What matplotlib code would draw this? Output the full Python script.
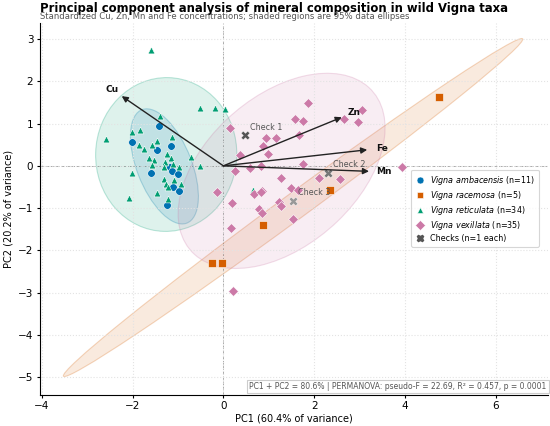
import numpy as np
import matplotlib
matplotlib.use("Agg")
import matplotlib.pyplot as plt
from matplotlib.patches import Ellipse
from matplotlib.lines import Line2D

# PCA scores
amb_x = [-1.41, -2.02, -1.16, -1.47, -1.59, -1.18, -1.13, -1.01, -1.10, -0.98, -1.24]
amb_y = [0.94, 0.57, 0.48, 0.38, -0.16, -0.02, -0.13, -0.20, -0.49, -0.59, -0.92]

rac_x = [4.75, 2.35, 0.87, -0.25, -0.04]
rac_y = [1.64, -0.58, -1.39, -2.29, -2.31]

ret_x = [-1.59, -0.52, -0.18, 0.04, -1.40, -2.02, -1.84, -2.58, -1.74, -1.85, -1.57, -1.46,
         -1.14, -1.24, -1.63, -1.53, -1.16, -0.72, -1.58, -1.29, -1.10, -0.98, -1.30, -0.51,
         -2.02, -1.08, -1.30, -1.27, -1.23, -0.94, -1.46, -2.09, -1.21, 0.66]
ret_y = [2.75, 1.37, 1.36, 1.34, 1.19, 0.80, 0.84, 0.64, 0.39, 0.49, 0.49, 0.59,
         0.69, 0.28, 0.18, 0.14, 0.18, 0.22, 0.02, 0.09, 0.04, -0.02, -0.02, 0.00,
         -0.18, -0.33, -0.30, -0.44, -0.49, -0.44, -0.64, -0.75, -0.78, -0.57]

vex_x = [1.87, 3.06, 2.66, 2.97, 1.58, 1.75, 0.14, 1.67, 0.93, 1.17, 0.88, 0.98,
         0.36, 1.75, 0.58, 0.82, 0.25, 3.93, 1.26, 2.11, 2.56, 1.48, 1.65, -0.13,
         0.68, 0.86, 0.20, 1.23, 1.26, 0.78, 0.86, 1.54, 0.17, 0.22, 0.84]
vex_y = [1.48, 1.31, 1.10, 1.03, 1.10, 1.07, 0.89, 0.74, 0.65, 0.65, 0.46, 0.29,
         0.25, 0.05, -0.05, -0.01, -0.13, -0.02, -0.29, -0.29, -0.32, -0.52, -0.58, -0.61,
         -0.66, -0.60, -0.87, -0.86, -0.96, -1.02, -1.12, -1.26, -1.47, -2.96, -0.63]

check_names = ["Check 1", "Check 2", "Check 3"]
check_x = [0.48, 2.31, 1.53]
check_y = [0.72, -0.16, -0.82]

minerals = ["Cu", "Zn", "Fe", "Mn"]
load_x = [-2.24, 2.61, 3.17, 3.21]
load_y = [1.65, 1.15, 0.38, -0.13]

species = [
    ("Vigna ambacensis", amb_x, amb_y, "#0072B2", "o", 30),
    ("Vigna racemosa", rac_x, rac_y, "#D55E00", "s", 26),
    ("Vigna reticulata", ret_x, ret_y, "#009E73", "^", 24),
    ("Vigna vexillata", vex_x, vex_y, "#CC79A7", "D", 25),
]


def data_ellipse(ax, x, y, color):
    x = np.asarray(x)
    y = np.asarray(y)
    cov = np.cov(x, y)
    vals, vecs = np.linalg.eigh(cov)
    order = vals.argsort()[::-1]
    vals, vecs = vals[order], vecs[:, order]
    angle = np.degrees(np.arctan2(vecs[1, 0], vecs[0, 0]))
    k = np.sqrt(5.991)
    w, h = 2 * k * np.sqrt(vals)
    ax.add_patch(Ellipse((x.mean(), y.mean()), w, h, angle=angle,
                         facecolor=color, alpha=0.13, zorder=1))
    ax.add_patch(Ellipse((x.mean(), y.mean()), w, h, angle=angle,
                         facecolor="none", edgecolor=color, alpha=0.25, lw=0.8, zorder=1))


fig = plt.figure(figsize=(5.5, 4.26), dpi=100)
ax = fig.add_axes([0.072, 0.073, 0.924, 0.873])

ax.grid(True, color="#e3e3e3", linestyle=":", linewidth=0.8, zorder=0)
ax.axhline(0, color="#aaaaaa", linestyle="--", linewidth=0.7, zorder=0.5)
ax.axvline(0, color="#aaaaaa", linestyle="--", linewidth=0.7, zorder=0.5)

handles = []
for name, xs, ys, col, mk, sz in species:
    data_ellipse(ax, xs, ys, col)
for name, xs, ys, col, mk, sz in species:
    ax.scatter(xs, ys, s=sz, marker=mk, color=col, edgecolor="white", linewidth=0.4, zorder=3)
    handles.append(Line2D([], [], marker=mk, color=col, linestyle="none", markersize=5,
                          markeredgecolor="white", markeredgewidth=0.4,
                          label=r"$\it{" + name.replace(" ", r"\ ") + "}$" + f" (n={len(xs)})"))

check_cols = ["#555555", "#777777", "#999999"]
for nm, cx, cy, cc in zip(check_names, check_x, check_y, check_cols):
    ax.scatter(cx, cy, s=40, marker="X", color=cc, edgecolor="white", linewidth=0.3, zorder=4)
    ax.annotate(nm, (cx, cy), xytext=(3.5, 2.5), textcoords="offset points",
                fontsize=5.8, color="#555555", ha="left", va="bottom", zorder=5)
handles.append(Line2D([], [], marker="X", color="#555555", linestyle="none", markersize=5,
                      label="Checks (n=1 each)"))

for m, lx, ly in zip(minerals, load_x, load_y):
    ax.annotate("", xy=(lx, ly), xytext=(0, 0),
                arrowprops=dict(arrowstyle="-|>", color="#222222", lw=1.0,
                                mutation_scale=9, shrinkA=0, shrinkB=0), zorder=6)
    ax.text(lx * 1.1, ly * 1.1, m, fontsize=6.5, fontweight="bold", color="#111111",
            ha="center", va="center", zorder=6)

ax.set_xlim(-4.05, 7.15)
ax.set_ylim(-5.42, 3.38)
ax.set_xticks([-4, -2, 0, 2, 4, 6])
ax.set_yticks([-5, -4, -3, -2, -1, 0, 1, 2, 3])
ax.tick_params(labelsize=7.5, length=2.5, width=0.8, pad=2)
for s in ["top", "right"]:
    ax.spines[s].set_visible(False)
ax.set_xlabel("PC1 (60.4% of variance)", fontsize=7, labelpad=2)
ax.set_ylabel("PC2 (20.2% of variance)", fontsize=7, labelpad=3)

leg = ax.legend(handles=handles, loc="center right", bbox_to_anchor=(0.99, 0.502),
                fontsize=5.8, frameon=True, handletextpad=0.6, borderpad=0.5,
                labelspacing=0.25, handlelength=1.2)
leg.get_frame().set_edgecolor("#cccccc")
leg.get_frame().set_linewidth(0.8)

ax.text(0.997, 0.01, "PC1 + PC2 = 80.6% | PERMANOVA: pseudo-F = 22.69, R\u00b2 = 0.457, p = 0.0001",
        transform=ax.transAxes, ha="right", va="bottom", fontsize=5.5, color="#555555",
        bbox=dict(boxstyle="square,pad=0.3", facecolor="white", edgecolor="#cccccc", linewidth=0.8),
        zorder=7)

fig.text(0.073, 0.979, "Principal component analysis of mineral composition in wild Vigna taxa",
         fontsize=8.4, fontweight="bold", ha="left", va="center")
fig.text(0.073, 0.961, "Standardized Cu, Zn, Mn and Fe concentrations; shaded regions are 95% data ellipses",
         fontsize=6.1, color="#555555", ha="left", va="center")

fig.savefig("out.png", dpi=100)
